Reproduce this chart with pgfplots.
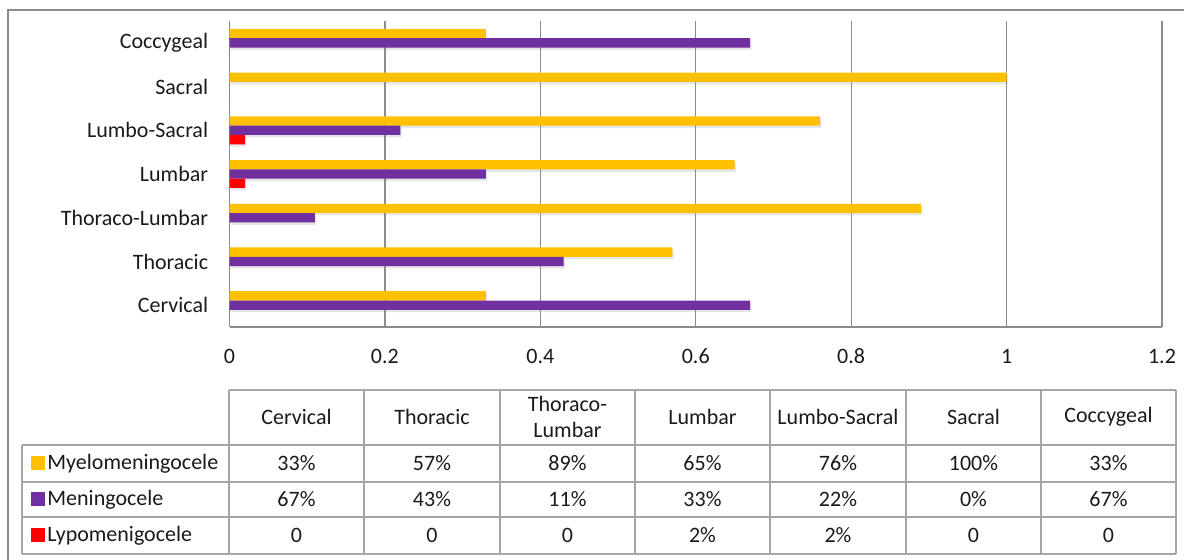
\documentclass[border=0pt]{standalone}
\usepackage{pgfplots}
\pgfplotsset{compat=1.18}
\usepackage{fontspec}
\setmainfont{Carlito}
\usetikzlibrary{shadows}
\definecolor{myel}{HTML}{FFC000}
\definecolor{men}{HTML}{7030A0}
\definecolor{lyp}{HTML}{FF0000}
\definecolor{gridc}{HTML}{8C8C8C}
\definecolor{tabc}{HTML}{A6A6A6}
\definecolor{txt}{HTML}{1A1A1A}

\pgfplotstableread{
y myelo menin lypo
0 0.33 0.67 0
1 0.57 0.43 0
2 0.89 0.11 0
3 0.65 0.33 0.02
4 0.76 0.22 0.02
5 1.00 0.00 0
6 0.33 0.67 0
}\datatab

\begin{document}
\fontsize{11}{13}\selectfont
\begin{tikzpicture}
\path[use as bounding box] (0pt,0pt) rectangle (592pt,-279.5pt);
\begin{axis}[at={(114.75pt,-163.5pt)}, anchor=south west, scale only axis,
  width=466.25pt, height=153pt,
  xbar, bar width=4.65pt,
  xmin=0, xmax=1.2, ymin=-0.5, ymax=6.5,
  xtick={0,0.2,0.4,0.6,0.8,1,1.2},
  xticklabels={0,0.2,0.4,0.6,0.8,1,1.2},
  ytick={0,1,2,3,4,5,6},
  yticklabels={Cervical,Thoracic,Thoraco-Lumbar,Lumbar,Lumbo-Sacral,Sacral,Coccygeal},
  xmajorgrids, major grid style={gridc, line width=0.6pt},
  axis x line*=bottom, axis y line*=left,
  axis line style={gridc, line width=0.6pt, -},
  major tick length=0pt,
  xticklabel style={anchor=center, yshift=-14.5pt},
  yticklabel style={anchor=east, inner sep=0pt, xshift=-10.5pt},
  tick label style={font=\fontsize{11}{13}\selectfont, text=txt},
  /pgf/number format/assume math mode=true,
]
\addplot[fill=myel, draw=none, bar shift=4.65pt,
  drop shadow={opacity=0.2, shadow xshift=0.6pt, shadow yshift=-1.2pt}] table[x=myelo, y=y] {\datatab};
\addplot[fill=men, draw=none, bar shift=0pt,
  drop shadow={opacity=0.2, shadow xshift=0.6pt, shadow yshift=-1.2pt}] table[x=menin, y=y] {\datatab};
\addplot[fill=lyp, draw=none, bar shift=-4.65pt,
  drop shadow={opacity=0.2, shadow xshift=0.6pt, shadow yshift=-1.2pt}] table[x=lypo, y=y] {\datatab};
\end{axis}
\begin{scope}[x=0.5pt,y=-0.5pt]
\draw[gridc, line width=1pt] (8,10) rectangle (1200,600);
% table lines
\draw[tabc, line width=0.7pt] (229,390) -- (1176,390);
\foreach \yy in {445,482,517,554} \draw[tabc, line width=0.7pt] (22,\yy) -- (1176,\yy);
\draw[tabc, line width=0.7pt] (22,445) -- (22,554);
\foreach \xx in {229,364,500,635,770,906,1041,1176} \draw[tabc, line width=0.7pt] (\xx,390) -- (\xx,554);
% header
\foreach \xx/\tt in {296.5/Cervical,432/Thoracic,702.5/Lumbar,838/Lumbo-Sacral,973.5/Sacral,1108.5/Coccygeal}
  \node[text=txt, inner sep=0pt] at (\xx,417) {\tt};
\node[text=txt, inner sep=0pt, align=center] at (567.5,417) {Thoraco-\\Lumbar};
% row labels
\fill[myel] (31,456) rectangle (45,470);
\fill[men] (31,492) rectangle (45,506);
\fill[lyp] (31,528) rectangle (45,542);
\node[text=txt, anchor=west, inner sep=0pt] at (47,463.5) {Myelomeningocele};
\node[text=txt, anchor=west, inner sep=0pt] at (47,499.5) {Meningocele};
\node[text=txt, anchor=west, inner sep=0pt] at (47,535.5) {Lypomenigocele};
% values
\foreach \xx/\a/\b/\c in {296.5/33\%/67\%/0, 432/57\%/43\%/0, 567.5/89\%/11\%/0, 702.5/65\%/33\%/2\%, 838/76\%/22\%/2\%, 973.5/100\%/0\%/0, 1108.5/33\%/67\%/0}{
  \node[text=txt, inner sep=0pt] at (\xx,463.5) {\a};
  \node[text=txt, inner sep=0pt] at (\xx,499.5) {\b};
  \node[text=txt, inner sep=0pt] at (\xx,535.5) {\c};
}
\end{scope}
\end{tikzpicture}
\end{document}
